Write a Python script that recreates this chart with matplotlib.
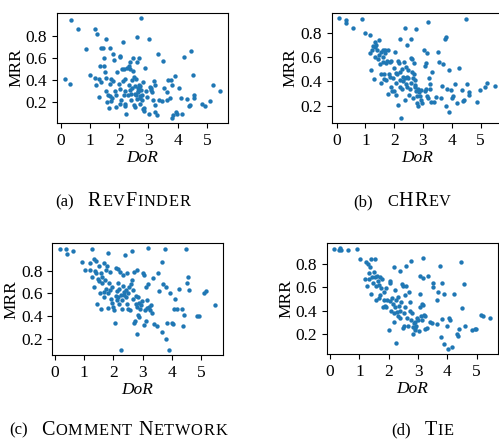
import matplotlib
matplotlib.use('Agg')
import matplotlib.pyplot as plt
from matplotlib.offsetbox import TextArea, HPacker, AnnotationBbox

plt.rcParams['font.family'] = ['Liberation Serif', 'DejaVu Serif']

# (a) RevFinder
revfinder_dor = [0.34, 0.57, 0.13, 0.32, 0.87, 1.15, 1.22, 1.53, 1.37, 1.44, 1.69, 0.99, 1.15, 1.21, 1.31,
                 1.36, 1.30, 1.33, 1.49, 1.47, 1.52, 1.53, 1.56, 1.59, 1.63, 1.67, 1.69, 1.71, 1.80, 1.79,
                 1.82, 1.74, 1.71, 1.86, 1.89, 1.90, 1.92, 2.00, 2.01, 2.03, 2.03, 2.07, 2.03, 2.09, 2.11,
                 2.14, 2.17, 2.18, 2.21, 2.18, 2.21, 2.24, 2.26, 2.30, 2.32, 2.34, 2.38, 2.38, 2.36, 2.41,
                 2.41, 2.44, 2.47, 2.47, 2.49, 2.49, 2.53, 2.54, 2.55, 2.57, 2.60, 2.62, 2.63, 2.61, 2.64,
                 2.67, 2.68, 2.69, 2.70, 2.71, 2.72, 2.75, 2.76, 2.78, 2.78, 2.80, 2.82, 2.84, 2.87, 2.86,
                 2.95, 3.01, 3.03, 3.07, 3.10, 3.13, 3.16, 3.18, 3.21, 3.21, 3.24, 3.28, 3.33, 3.36, 3.45,
                 3.51, 3.53, 3.62, 3.64, 3.68, 3.74, 3.78, 3.82, 3.79, 3.85, 3.90, 3.93, 3.99, 4.05, 4.10,
                 4.16, 4.22, 4.33, 4.39, 4.41, 4.47, 4.53, 4.56, 4.56, 4.85, 4.94, 5.11, 5.20, 5.46,
                 2.65, 2.72, 2.58, 2.90, 3.05, 2.45, 1.62, 2.15]
revfinder_mrr = [0.94, 0.86, 0.41, 0.37, 0.68, 0.86, 0.82, 0.77, 0.69, 0.69, 0.69, 0.45, 0.42, 0.36, 0.41,
                 0.38, 0.25, 0.53, 0.60, 0.53, 0.47, 0.42, 0.30, 0.20, 0.15, 0.26, 0.37, 0.41, 0.39, 0.64,
                 0.58, 0.24, 0.21, 0.30, 0.16, 0.27, 0.47, 0.37, 0.62, 0.61, 0.32, 0.22, 0.19, 0.50, 0.39,
                 0.74, 0.50, 0.41, 0.30, 0.19, 0.17, 0.10, 0.51, 0.27, 0.36, 0.53, 0.56, 0.50, 0.31, 0.28,
                 0.22, 0.40, 0.60, 0.48, 0.43, 0.18, 0.16, 0.35, 0.28, 0.41, 0.79, 0.56, 0.30, 0.23, 0.33,
                 0.60, 0.36, 0.32, 0.26, 0.24, 0.19, 0.96, 0.31, 0.27, 0.22, 0.38, 0.14, 0.12, 0.51, 0.15,
                 0.25, 0.77, 0.10, 0.31, 0.33, 0.29, 0.22, 0.39, 0.36, 0.18, 0.11, 0.09, 0.64, 0.22, 0.21,
                 0.57, 0.33, 0.29, 0.22, 0.40, 0.24, 0.40, 0.36, 0.06, 0.09, 0.44, 0.11, 0.10, 0.33, 0.24,
                 0.10, 0.61, 0.23, 0.17, 0.18, 0.66, 0.45, 0.27, 0.24, 0.19, 0.17, 0.21, 0.36, 0.30,
                 0.29, 0.35, 0.27, 0.30, 0.34, 0.33, 0.27, 0.27]

# (b) cHRev
chrev_dor = [0.10, 0.34, 0.31, 0.57, 0.87, 1.00, 1.15, 1.15, 1.20, 1.30, 1.24, 1.27, 1.32, 1.35, 1.38,
             1.32, 1.39, 1.45, 1.48, 1.49, 1.50, 1.53, 1.55, 1.56, 1.62, 1.62, 1.61, 1.64, 1.64, 1.67,
             1.68, 1.70, 1.72, 1.76, 1.78, 1.79, 1.82, 1.84, 1.85, 1.88, 1.90, 1.92, 1.96, 1.99, 2.01,
             2.04, 2.05, 2.07, 2.08, 2.11, 2.14, 2.14, 2.16, 2.20, 2.20, 2.22, 2.22, 2.25, 2.28, 2.28,
             2.30, 2.31, 2.34, 2.36, 2.37, 2.38, 2.40, 2.42, 2.43, 2.45, 2.45, 2.48, 2.48, 2.51, 2.55,
             2.57, 2.59, 2.60, 2.62, 2.63, 2.65, 2.66, 2.69, 2.69, 2.71, 2.72, 2.74, 2.77, 2.77, 2.78,
             2.80, 2.82, 2.82, 2.86, 2.89, 2.92, 2.94, 2.97, 3.03, 3.06, 3.07, 3.09, 3.11, 3.13, 3.15,
             3.18, 3.18, 3.21, 3.24, 3.26, 3.29, 3.32, 3.38, 3.47, 3.52, 3.55, 3.61, 3.67, 3.70, 3.75,
             3.81, 3.81, 3.84, 3.92, 3.92, 3.98, 4.02, 4.05, 4.11, 4.17, 4.25, 4.34, 4.39, 4.42, 4.48,
             4.54, 4.59, 4.59, 4.88, 4.98, 5.15, 5.23, 5.50]
chrev_mrr = [0.92, 0.90, 0.88, 0.84, 0.91, 0.80, 0.78, 0.63, 0.49, 0.42, 0.66, 0.69, 0.68, 0.72, 0.70,
             0.60, 0.66, 0.58, 0.74, 0.62, 0.54, 0.46, 0.39, 0.64, 0.66, 0.60, 0.56, 0.42, 0.46, 0.66,
             0.63, 0.55, 0.41, 0.57, 0.66, 0.30, 0.46, 0.56, 0.44, 0.57, 0.35, 0.32, 0.43, 0.32, 0.51,
             0.64, 0.29, 0.47, 0.39, 0.46, 0.57, 0.21, 0.55, 0.75, 0.48, 0.35, 0.41, 0.10, 0.34, 0.50,
             0.44, 0.40, 0.56, 0.43, 0.25, 0.84, 0.52, 0.38, 0.44, 0.70, 0.35, 0.49, 0.43, 0.29, 0.34,
             0.59, 0.75, 0.39, 0.48, 0.58, 0.26, 0.43, 0.55, 0.46, 0.37, 0.35, 0.41, 0.83, 0.32, 0.28,
             0.22, 0.34, 0.20, 0.31, 0.28, 0.33, 0.25, 0.22, 0.66, 0.53, 0.32, 0.55, 0.34, 0.28, 0.63,
             0.89, 0.26, 0.43, 0.34, 0.38, 0.23, 0.48, 0.23, 0.27, 0.64, 0.56, 0.26, 0.36, 0.54, 0.75,
             0.76, 0.20, 0.34, 0.49, 0.15, 0.33, 0.26, 0.28, 0.38, 0.22, 0.51, 0.33, 0.24, 0.25, 0.91,
             0.38, 0.29, 0.31, 0.23, 0.33, 0.35, 0.39, 0.36]

# (c) Comment Network
comment_dor = [0.17, 0.38, 0.40, 0.63, 0.91, 1.03, 1.18, 1.26, 1.20, 1.26, 1.35, 1.39, 1.35, 1.37, 1.40,
               1.43, 1.46, 1.52, 1.51, 1.54, 1.56, 1.58, 1.60, 1.62, 1.66, 1.68, 1.68, 1.71, 1.74, 1.75,
               1.77, 1.80, 1.83, 1.83, 1.85, 1.88, 1.88, 1.92, 1.94, 1.96, 2.00, 2.03, 2.05, 2.08, 2.08,
               2.11, 2.13, 2.15, 2.17, 2.17, 2.19, 2.20, 2.23, 2.25, 2.26, 2.28, 2.31, 2.32, 2.34, 2.36,
               2.37, 2.40, 2.42, 2.43, 2.45, 2.48, 2.49, 2.51, 2.53, 2.57, 2.60, 2.63, 2.65, 2.66, 2.68,
               2.71, 2.72, 2.74, 2.76, 2.77, 2.80, 2.80, 2.82, 2.83, 2.85, 2.88, 2.89, 2.91, 2.93, 2.97,
               3.03, 3.05, 3.05, 3.08, 3.10, 3.12, 3.14, 3.16, 3.17, 3.20, 3.23, 3.25, 3.29, 3.31, 3.34,
               3.39, 3.50, 3.54, 3.56, 3.65, 3.68, 3.71, 3.77, 3.79, 3.80, 3.85, 3.92, 3.94, 4.00, 4.03,
               4.09, 4.11, 4.19, 4.25, 4.36, 4.39, 4.42, 4.49, 4.53, 4.57, 4.59, 4.85, 4.94, 5.11, 5.19,
               5.48]
comment_mrr = [0.99, 0.99, 0.95, 0.98, 0.88, 0.81, 0.87, 0.99, 0.81, 0.75, 0.91, 0.89, 0.66, 0.80, 0.78,
               0.51, 0.73, 0.84, 0.71, 0.60, 0.46, 0.78, 0.75, 0.69, 0.61, 0.87, 0.57, 0.72, 0.64, 0.81,
               0.84, 0.60, 0.96, 0.47, 0.69, 0.63, 0.79, 0.55, 0.66, 0.52, 0.48, 0.45, 0.34, 0.83, 0.58,
               0.54, 0.62, 0.82, 0.69, 0.57, 0.64, 0.51, 0.79, 0.59, 0.10, 0.54, 0.46, 0.67, 0.76, 0.61,
               0.59, 0.94, 0.63, 0.57, 0.51, 0.78, 0.60, 0.46, 0.66, 0.45, 0.68, 0.98, 0.72, 0.63, 0.55,
               0.34, 0.79, 0.36, 0.51, 0.58, 0.81, 0.48, 0.24, 0.41, 0.57, 0.39, 0.52, 0.46, 0.50, 0.53,
               0.78, 0.76, 0.32, 0.45, 0.66, 0.36, 0.54, 0.47, 1.00, 0.68, 0.48, 0.45, 0.50, 0.43, 0.74,
               0.33, 0.31, 0.78, 0.62, 0.26, 0.88, 0.68, 0.99, 0.66, 0.20, 0.34, 0.10, 0.60, 0.34, 0.33,
               0.46, 0.55, 0.46, 0.64, 0.46, 0.31, 0.41, 0.99, 0.69, 0.75, 0.63, 0.40, 0.40, 0.60, 0.62,
               0.50]

# (d) Tie
tie_dor = [0.15, 0.34, 0.37, 0.32, 0.61, 0.91, 1.03, 1.20, 1.23, 1.28, 1.26, 1.31, 1.34, 1.35, 1.39,
           1.39, 1.43, 1.46, 1.51, 1.52, 1.54, 1.56, 1.56, 1.60, 1.63, 1.66, 1.68, 1.69, 1.71, 1.75,
           1.77, 1.80, 1.83, 1.85, 1.88, 1.91, 1.92, 1.94, 2.00, 2.03, 2.05, 2.05, 2.08, 2.11, 2.13,
           2.17, 2.17, 2.19, 2.20, 2.23, 2.25, 2.26, 2.28, 2.31, 2.32, 2.34, 2.37, 2.40, 2.40, 2.43,
           2.46, 2.48, 2.49, 2.51, 2.53, 2.55, 2.57, 2.59, 2.60, 2.63, 2.65, 2.68, 2.71, 2.74, 2.76,
           2.77, 2.80, 2.82, 2.83, 2.85, 2.88, 2.89, 2.91, 2.93, 2.97, 3.00, 3.03, 3.05, 3.06, 3.08,
           3.11, 3.12, 3.14, 3.16, 3.17, 3.17, 3.20, 3.22, 3.25, 3.29, 3.33, 3.40, 3.48, 3.52, 3.52,
           3.63, 3.65, 3.69, 3.74, 3.79, 3.80, 3.82, 3.90, 3.90, 3.99, 4.02, 4.05, 4.09, 4.17, 4.22,
           4.34, 4.37, 4.39, 4.47, 4.51, 4.57, 4.59, 4.85, 4.93, 4.99, 5.14, 5.22, 5.46]
tie_mrr = [0.93, 0.94, 0.92, 0.92, 0.92, 0.93, 0.84, 0.67, 0.82, 0.80, 0.61, 0.72, 0.67, 0.77, 0.84,
           0.54, 0.69, 0.64, 0.73, 0.69, 0.84, 0.61, 0.49, 0.70, 0.65, 0.51, 0.62, 0.69, 0.53, 0.59,
           0.67, 0.43, 0.56, 0.49, 0.44, 0.59, 0.43, 0.49, 0.23, 0.65, 0.64, 0.48, 0.40, 0.51, 0.46,
           0.77, 0.38, 0.30, 0.58, 0.43, 0.49, 0.12, 0.39, 0.52, 0.35, 0.44, 0.34, 0.74, 0.40, 0.47,
           0.63, 0.25, 0.61, 0.38, 0.27, 0.53, 0.43, 0.78, 0.61, 0.34, 0.27, 0.56, 0.40, 0.47, 0.83,
           0.32, 0.38, 0.26, 0.20, 0.29, 0.23, 0.30, 0.25, 0.27, 0.34, 0.32, 0.22, 0.70, 0.43, 0.54,
           0.35, 0.46, 0.32, 0.68, 0.85, 0.45, 0.36, 0.24, 0.35, 0.25, 0.70, 0.30, 0.29, 0.64, 0.60,
           0.28, 0.49, 0.56, 0.78, 0.17, 0.64, 0.33, 0.54, 0.11, 0.27, 0.07, 0.34, 0.32, 0.09, 0.54,
           0.20, 0.18, 0.24, 0.82, 0.42, 0.63, 0.27, 0.23, 0.24, 0.24, 0.36, 0.35, 0.34]

panels = [
    ('(a)', 'RevFinder', revfinder_dor, revfinder_mrr),
    ('(b)', 'cHRev', chrev_dor, chrev_mrr),
    ('(c)', 'Comment Network', comment_dor, comment_mrr),
    ('(d)', 'Tie', tie_dor, tie_mrr),
]

# axes rectangles (figure fraction) and caption centres
axes_rects = [[0.1142, 0.7205, 0.3427, 0.25],
              [0.6647, 0.7205, 0.3427, 0.25],
              [0.1048, 0.1932, 0.3415, 0.2539],
              [0.6547, 0.1955, 0.3433, 0.253]]
caption_pos = [(0.246, 0.541), (0.806, 0.541), (0.236, 0.022), (0.846, 0.022)]

TAG = 12
BIG = 14.5
SMALL = 11.8


def small_caps(word):
    # capitals at full size, lowercase letters as smaller capitals
    letters = [TextArea(ch.upper(), textprops=dict(size=BIG if ch.isupper() else SMALL))
               for ch in word]
    return HPacker(children=letters, align='baseline', pad=0, sep=0.5)


fig = plt.figure(figsize=(4.99, 4.40), dpi=100)

for (tag, name, dor, mrr), rect, cpos in zip(panels, axes_rects, caption_pos):
    ax = fig.add_axes(rect)
    ax.scatter(dor, mrr, s=10, color='#1f77b4', linewidths=0)
    ax.set_xticks([0, 1, 2, 3, 4, 5])
    ax.set_yticks([0.2, 0.4, 0.6, 0.8])
    ax.tick_params(labelsize=12.5)
    ax.set_xlabel('DoR', fontsize=12.5, style='italic', labelpad=1)
    ax.set_ylabel('MRR', fontsize=12.5, labelpad=1)

    words = [small_caps(w) for w in name.split(' ')]
    name_box = HPacker(children=words, align='baseline', pad=0, sep=4.5)
    box = HPacker(children=[TextArea(tag, textprops=dict(size=TAG)), name_box],
                  align='baseline', pad=0, sep=10)
    ab = AnnotationBbox(box, cpos, xycoords='figure fraction', frameon=False,
                        box_alignment=(0.5, 0.5), pad=0)
    fig.add_artist(ab)

fig.savefig('out.png', dpi=100)
